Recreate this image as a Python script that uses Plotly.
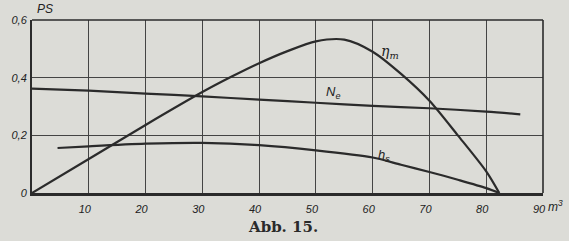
import plotly.graph_objects as go

# Data (x: m^3, y: PS)
eta_x = [0, 10, 20, 30, 35, 40, 45, 50, 55, 60, 65, 70, 75, 80, 82.3]
eta_y = [0, 0.118, 0.236, 0.35, 0.402, 0.45, 0.492, 0.526, 0.532, 0.49, 0.413, 0.32, 0.2, 0.075, 0]

ne_x = [0, 10, 20, 30, 40, 50, 60, 70, 80, 86]
ne_y = [0.362, 0.355, 0.345, 0.335, 0.324, 0.313, 0.302, 0.294, 0.282, 0.273]

hs_x = [4.5, 10, 20, 30, 40, 50, 60, 65, 70, 75, 80, 82.3]
hs_y = [0.156, 0.162, 0.171, 0.174, 0.166, 0.148, 0.123, 0.098, 0.073, 0.046, 0.017, 0]

x_ticks = [10, 20, 30, 40, 50, 60, 70, 80, 90]
x_ticktext = ["10", "20", "30", "40", "50", "60", "70", "80", "90"]
y_ticks = [0, 0.2, 0.4, 0.6]
y_ticktext = ["0", "0,2", "0,4", "0,6"]

LINE = "#2b2b2b"
GRID = "#444444"
BG = "#dcdcd7"

fig = go.Figure()
for xs, ys in [(eta_x, eta_y), (ne_x, ne_y), (hs_x, hs_y)]:
    fig.add_trace(go.Scatter(x=xs, y=ys, mode="lines",
                             line=dict(color=LINE, width=2.2, shape="spline", smoothing=0.8),
                             showlegend=False, hoverinfo="skip"))

tickfont = dict(family="Liberation Sans", size=11, color="#222", style="italic")

pw = 569 - 23 - 26
ph = 241 - 20 - 48

fig.update_layout(
    width=569, height=241,
    margin=dict(l=23, r=26, t=20, b=48),
    paper_bgcolor=BG, plot_bgcolor=BG,
    xaxis=dict(range=[0, 90], tickvals=x_ticks, ticktext=x_ticktext,
               showgrid=True, gridcolor=GRID, gridwidth=1,
               showline=True, linecolor=LINE, linewidth=2.5,
               ticks="", tickfont=tickfont, ticklabelshift=-4, ticklabelstandoff=4,
               zeroline=False),
    yaxis=dict(range=[0, 0.6], tickvals=y_ticks, ticktext=y_ticktext,
               showgrid=True, gridcolor=GRID, gridwidth=1,
               showline=True, linecolor=LINE, linewidth=2,
               ticks="", tickfont=tickfont, ticklabelstandoff=1,
               zeroline=False),
    shapes=[
        dict(type="line", xref="paper", yref="paper", x0=0, x1=1, y0=1, y1=1,
             line=dict(color=LINE, width=1.6)),
        dict(type="line", xref="paper", yref="paper", x0=1, x1=1, y0=0, y1=1,
             line=dict(color=LINE, width=1.6)),
    ],
    annotations=[
        dict(x=0, y=1, xref="paper", yref="paper", text="PS", showarrow=False,
             xanchor="left", yanchor="bottom", xshift=3, yshift=2,
             font=dict(family="Liberation Sans", size=12, color="#222", style="italic")),
        dict(x=90, y=0, xref="x", yref="y", text="m<sup>3</sup>", showarrow=False,
             xanchor="left", yanchor="top", xshift=3, yshift=-3,
             font=dict(family="Liberation Sans", size=12, color="#222", style="italic")),
        dict(x=63, y=0.49, xref="x", yref="y", text="η<sub>m</sub>", showarrow=False,
             xanchor="center", yanchor="middle",
             font=dict(family="DejaVu Serif", size=14, color="#222", style="italic")),
        dict(x=53, y=0.35, xref="x", yref="y", text="N<sub>e</sub>", showarrow=False,
             xanchor="center", yanchor="middle",
             font=dict(family="Liberation Sans", size=13, color="#222", style="italic")),
        dict(x=62, y=0.13, xref="x", yref="y", text="h<sub>s</sub>", showarrow=False,
             xanchor="center", yanchor="middle",
             font=dict(family="Liberation Sans", size=13, color="#222", style="italic")),
        dict(x=(278 - 23) / pw, y=(241 - 48 - 227) / ph, xref="paper", yref="paper",
             text="<b>Abb. 15.</b>", showarrow=False, xanchor="center", yanchor="middle",
             font=dict(family="DejaVu Serif", size=15, color="#2a2a2a")),
    ],
)

fig.write_html("out.html")
